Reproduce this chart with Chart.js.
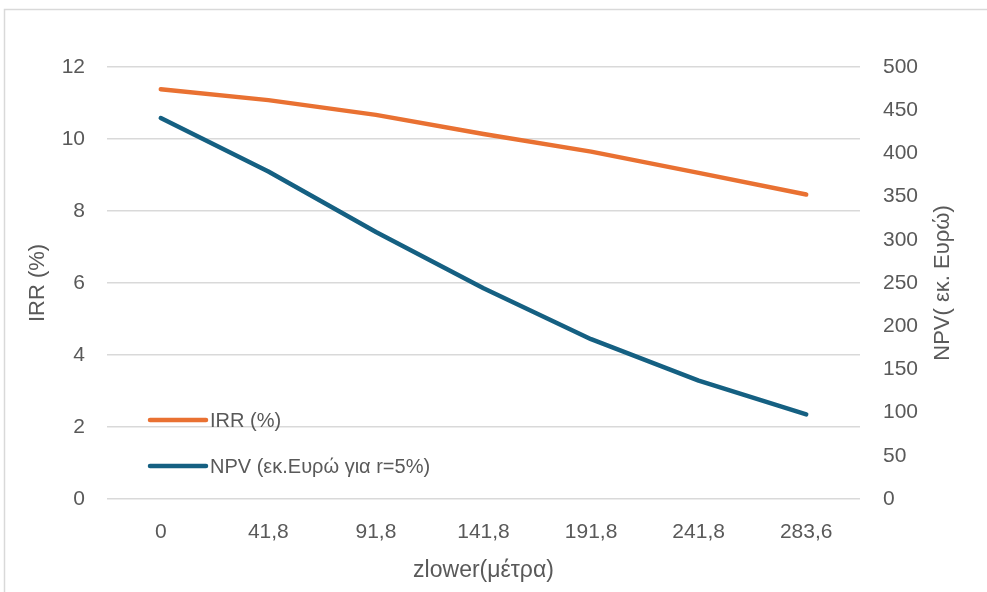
<!DOCTYPE html>
<html>
<head>
<meta charset="utf-8">
<script src="https://cdn.jsdelivr.net/npm/chart.js@4/dist/chart.umd.min.js"></script>
<style>
  html, body { margin: 0; padding: 0; background: #ffffff; }
  canvas { display: block; }
</style>
</head>
<body>
<canvas id="chart" width="987" height="592"></canvas>
<script>
// Depth of the lower intake (m) and the two economic indicators
const categories = ['0', '41,8', '91,8', '141,8', '191,8', '241,8', '283,6'];
const irrValues = [11.38, 11.08, 10.67, 10.14, 9.65, 9.06, 8.46];
const npvValues = [441, 379, 309, 244, 185, 137, 98];

const irrLabel = 'IRR (%)';
const npvLabel = 'NPV (εκ.Ευρώ για r=5%)';
const xTitle = 'zlower(μέτρα)';
const leftTitle = 'IRR (%)';
const rightTitle = 'NPV( εκ. Ευρώ)';

const TEXT = '#595959';
const GRID = '#d9d9d9';
const ORANGE = '#e97132';
const BLUE = '#156082';
const FONT = '"Liberation Sans", Arial, sans-serif';

// Outer frame of the chart box
const framePlugin = {
  id: 'frame',
  beforeDraw(chart) {
    const ctx = chart.ctx;
    ctx.save();
    ctx.fillStyle = '#ffffff';
    ctx.fillRect(0, 0, chart.width, chart.height);
    ctx.strokeStyle = GRID;
    ctx.lineWidth = 1.5;
    ctx.strokeRect(4.5, 9.5, chart.width + 20, chart.height + 20);
    ctx.restore();
  }
};

// Right axis title, reading bottom-to-top like the left one
const rightTitlePlugin = {
  id: 'rightTitle',
  afterDraw(chart) {
    const ctx = chart.ctx;
    const y = (chart.chartArea.top + chart.chartArea.bottom) / 2;
    ctx.save();
    ctx.translate(943, y);
    ctx.rotate(-Math.PI / 2);
    ctx.font = '22px ' + FONT;
    ctx.fillStyle = TEXT;
    ctx.textAlign = 'center';
    ctx.textBaseline = 'middle';
    ctx.fillText(rightTitle, 0, 0);
    ctx.restore();
  }
};

// Legend placed inside the plot, lower left
const innerLegendPlugin = {
  id: 'innerLegend',
  afterDraw(chart) {
    const ctx = chart.ctx;
    const x0 = 150, x1 = 206, tx = 210;
    const rows = [420, 466];
    ctx.save();
    ctx.font = '20px ' + FONT;
    ctx.textBaseline = 'middle';
    ctx.textAlign = 'left';
    chart.data.datasets.forEach((ds, i) => {
      const y = rows[i];
      ctx.strokeStyle = ds.borderColor;
      ctx.lineWidth = 4.5;
      ctx.lineCap = 'round';
      ctx.beginPath();
      ctx.moveTo(x0, y);
      ctx.lineTo(x1, y);
      ctx.stroke();
      ctx.fillStyle = TEXT;
      ctx.fillText(ds.label, tx, y + 1);
    });
    ctx.restore();
  }
};

new Chart(document.getElementById('chart'), {
  type: 'line',
  data: {
    labels: categories,
    datasets: [
      {
        label: irrLabel,
        data: irrValues,
        yAxisID: 'yIrr',
        borderColor: ORANGE,
        backgroundColor: ORANGE,
        borderWidth: 4.5,
        borderCapStyle: 'round',
        borderJoinStyle: 'round',
        pointRadius: 0,
        tension: 0
      },
      {
        label: npvLabel,
        data: npvValues,
        yAxisID: 'yNpv',
        borderColor: BLUE,
        backgroundColor: BLUE,
        borderWidth: 4.5,
        borderCapStyle: 'round',
        borderJoinStyle: 'round',
        pointRadius: 0,
        tension: 0
      }
    ]
  },
  options: {
    responsive: false,
    animation: false,
    devicePixelRatio: 1,
    layout: { padding: { top: 67, left: 0, right: 0, bottom: 0 } },
    plugins: {
      legend: { display: false },
      tooltip: { enabled: false }
    },
    scales: {
      x: {
        offset: true,
        grid: { display: false, drawTicks: false },
        border: { display: false },
        ticks: { color: TEXT, font: { family: FONT, size: 21 }, padding: 21, maxRotation: 0 },
        title: { display: true, text: xTitle, color: TEXT, font: { family: FONT, size: 23 }, padding: { top: 0, bottom: 8 } },
        afterFit(scale) { scale.height = 93; }
      },
      yIrr: {
        position: 'left',
        min: 0,
        max: 12,
        ticks: { stepSize: 2, color: TEXT, font: { family: FONT, size: 21 }, padding: 22 },
        grid: { color: GRID, lineWidth: 1.5, drawTicks: false },
        border: { display: false },
        title: { display: true, text: leftTitle, color: TEXT, font: { family: FONT, size: 22 }, padding: { top: 25, bottom: 0 } },
        afterFit(scale) { scale.width = 107; }
      },
      yNpv: {
        position: 'right',
        min: 0,
        max: 500,
        ticks: { stepSize: 50, color: TEXT, font: { family: FONT, size: 21 }, padding: 23 },
        grid: { drawOnChartArea: false, drawTicks: false },
        border: { display: false },
        afterFit(scale) { scale.width = 127; }
      }
    }
  },
  plugins: [framePlugin, rightTitlePlugin, innerLegendPlugin]
});
</script>
</body>
</html>
